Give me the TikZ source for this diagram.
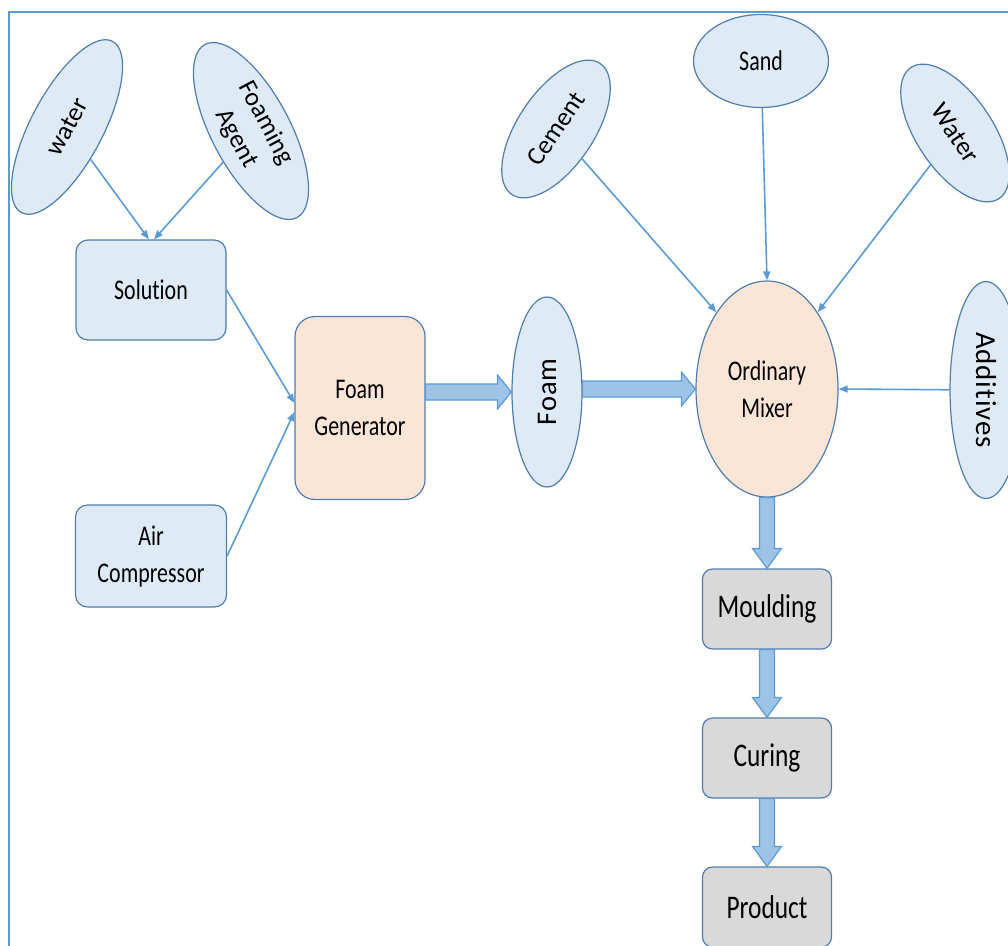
\documentclass[tikz,border=0pt]{standalone}
\usepackage{fontspec}
\setmainfont{Carlito}[FakeStretch=0.77,Ligatures=NoCommon]
\newfontfamily\tilted{Carlito}[Ligatures=NoCommon]
\newfontfamily\upright[LetterSpace=3,Ligatures=NoCommon]{Carlito}
\usetikzlibrary{shapes.geometric,arrows.meta,calc}

\definecolor{boxblue}{HTML}{DEEBF7}
\definecolor{peach}{HTML}{FBE5D6}
\definecolor{boxgray}{HTML}{D9D9D9}
\definecolor{edge}{HTML}{4F7DAE}
\definecolor{linkblue}{HTML}{5B9BD5}
\definecolor{fatfill}{HTML}{9DC3E6}

% fat arrow to the right, from the x of #1 to the left side of #2
\newcommand{\harrow}[2]{%
  \filldraw[fat] let \p1=(#1), \p2=(#2) in
    (\x1,\y2+8pt) -- (\x2-14pt,\y2+8pt) -- (\x2-14pt,\y2+17pt) -- (\x2,\y2)
    -- (\x2-14pt,\y2-17pt) -- (\x2-14pt,\y2-8pt) -- (\x1,\y2-8pt) -- cycle;}
% fat arrow downwards, from #1 to the top of #2
\newcommand{\varrow}[2]{%
  \filldraw[fat] let \p1=(#1), \p2=(#2) in
    (\x1-7.5pt,\y1) -- (\x1-7.5pt,\y2+20pt) -- (\x1-14.5pt,\y2+20pt) -- (\x1,\y2)
    -- (\x1+14.5pt,\y2+20pt) -- (\x1+7.5pt,\y2+20pt) -- (\x1+7.5pt,\y1) -- cycle;}

\begin{document}
\begin{tikzpicture}[x=1pt,y=-1pt,
  box/.style={draw=edge, line width=1.2pt, rounded corners=12pt, fill=boxblue,
    align=center, inner sep=0pt, font=\fontsize{28.5}{37}\selectfont},
  stage/.style={box, fill=boxgray, minimum width=129pt, minimum height=80pt,
    rounded corners=10pt, font=\fontsize{33}{37}\selectfont},
  blob/.style={ellipse, draw=edge, line width=1.2pt, fill=boxblue, inner sep=0pt,
    align=center, font=\tilted\fontsize{26}{33}\selectfont},
  link/.style={draw=linkblue, line width=1.6pt, -{Triangle[length=9pt,width=7pt]}},
  fat/.style={draw=linkblue, line width=1.2pt, fill=fatfill, line join=miter}]

    \useasboundingbox (0,0) rectangle (1008,945);
    \clip (0,0) rectangle (1008,945);

    % Cadre
    \draw[linkblue, line width=2pt] (9,12) rectangle (1030,970);

    % Mousse
    \node[blob, rotate=62, minimum width=194pt, minimum height=72pt] (wat) at (67,127) {water};
    \node[blob, rotate=-62, minimum width=196pt, minimum height=70pt] (agent) at (251,131) {Foaming\\Agent};
    \node[box, minimum width=150pt, minimum height=100pt] (sol) at (151,290) {Solution};
    \node[box, minimum width=151pt, minimum height=102pt] (air) at (151,556) {Air\\Compressor};
    \node[box, fill=peach, minimum width=130pt, minimum height=183pt, rounded corners=20pt] (gen) at (360,408) {Foam\\Generator};
    \node[blob, rotate=90, minimum width=190pt, minimum height=70pt, font=\upright\fontsize{28.5}{31}\selectfont] (foam) at (547,392) {Foam};

    % Malaxeur
    \node[blob, rotate=56, minimum width=158pt, minimum height=76pt] (cem) at (556,129) {Cement};
    \node[blob, minimum width=135pt, minimum height=93pt, font=\fontsize{28.5}{31}\selectfont] (sand) at (761,61) {Sand};
    \node[blob, rotate=-56, minimum width=158pt, minimum height=76pt] (wat2) at (955,133) {Water};
    \node[blob, rotate=-90, minimum width=217pt, minimum height=72pt, font=\upright\fontsize{29}{31}\selectfont] (add) at (986,390) {Additives};
    \node[blob, fill=peach, minimum width=142pt, minimum height=216pt, font=\fontsize{28.5}{37}\selectfont] (mix) at (767,389) {Ordinary\\Mixer};

    % Etapes
    \node[stage] (mould) at (767,609) {Moulding};
    \node[stage] (cure) at (767,758) {Curing};
    \node[stage] (prod) at (767,907) {Product};

    % Fleches fines
    \draw[link] (wat) -- ([xshift=-2pt]sol.north);
    \draw[link] (agent) -- ([xshift=3pt]sol.north);
    \draw[link] (sol.east) -- ([yshift=5pt]gen.west);
    \draw[link] (air.east) -- ([yshift=-4pt]gen.west);
    \draw[link] (cem) -- (mix.north west);
    \draw[link] (sand) -- (mix.north);
    \draw[link] (wat2) -- (mix.north east);
    \draw[link] (add) -- (mix.east);

    % Fleches larges (foam is turned: its north is on the left)
    \harrow{gen.east}{foam.north}
    \harrow{foam.south}{mix.west}
    \varrow{mix.south}{mould.north}
    \varrow{mould.south}{cure.north}
    \varrow{cure.south}{prod.north}
\end{tikzpicture}
\end{document}
